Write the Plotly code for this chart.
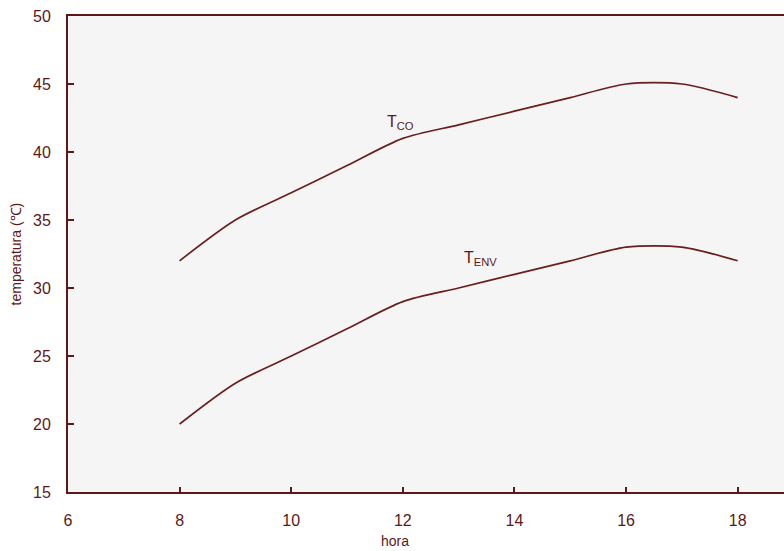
import plotly.graph_objects as go

# Hourly temperature readings
hours = [8, 9, 10, 11, 12, 13, 14, 15, 16, 17, 18]
t_co = [32, 35, 37, 39, 41, 42, 43, 44, 45, 45, 44]
t_env = [20, 23, 25, 27, 29, 30, 31, 32, 33, 33, 32]

x_ticks = [6, 8, 10, 12, 14, 16, 18]
y_ticks = [15, 20, 25, 30, 35, 40, 45, 50]

ink = "#5e1818"
line_col = "#6a1f1f"
font_family = "Liberation Sans, Arial, sans-serif"

fig = go.Figure()
for ys in (t_co, t_env):
    fig.add_trace(go.Scatter(
        x=hours, y=ys, mode="lines",
        line=dict(color=line_col, width=1.7, shape="spline", smoothing=0.8),
        showlegend=False, hoverinfo="skip",
    ))

fig.add_annotation(x=11.95, y=42.2, text="T<sub>CO</sub>", showarrow=False,
                   font=dict(size=16, color=ink, family=font_family))
fig.add_annotation(x=13.39, y=32.2, text="T<sub>ENV</sub>", showarrow=False,
                   font=dict(size=16, color=ink, family=font_family))
fig.add_annotation(x=11.86, xref="x", y=-0.103, yref="paper", yanchor="middle",
                   text="hora", showarrow=False,
                   font=dict(size=14, color=ink, family=font_family))
fig.add_annotation(x=-0.072, xref="paper", xanchor="center", y=32.5, yref="y",
                   text="temperatura (℃)", textangle=-90, showarrow=False,
                   font=dict(size=14, color=ink, family=font_family))

fig.update_xaxes(
    range=[6, 18.83], tickvals=x_ticks, ticks="inside", ticklen=5, tickwidth=1.5,
    tickcolor=ink, showline=True, linecolor=ink, linewidth=2, mirror=True,
    showgrid=False, zeroline=False, ticklabelstandoff=13,
    tickfont=dict(size=16, color=ink, family=font_family),
)
fig.update_yaxes(
    range=[15, 50], tickvals=y_ticks, ticks="inside", ticklen=6, tickwidth=1.5,
    tickcolor=ink, showline=True, linecolor=ink, linewidth=2, mirror=False,
    showgrid=False, zeroline=False, ticklabelstandoff=12,
    tickfont=dict(size=16, color=ink, family=font_family),
)
fig.update_layout(
    width=784, height=551,
    margin=dict(l=68, r=0, t=16, b=59),
    paper_bgcolor="white", plot_bgcolor="#f5f5f5",
)
fig.write_html("out.html")
